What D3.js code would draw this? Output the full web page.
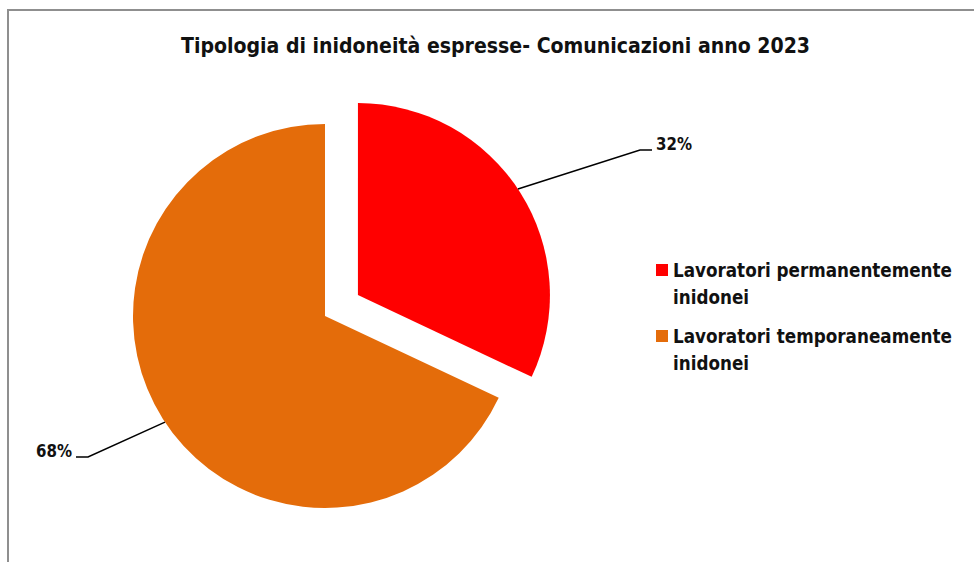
<!DOCTYPE html>
<html>
<head>
<meta charset="utf-8">
<script src="https://cdn.jsdelivr.net/npm/d3@7"></script>
<style>
  html, body { margin: 0; padding: 0; background: #fff; }
  svg { display: block; }
  text { font-family: "DejaVu Sans Condensed", "DejaVu Sans", sans-serif; font-weight: bold; fill: #111; }
</style>
</head>
<body>
<svg id="chart" width="974" height="562"></svg>
<script>
// Chart data
const categories = ["Lavoratori permanentemente inidonei", "Lavoratori temporaneamente inidonei"];
const legendLines = [["Lavoratori permanentemente", "inidonei"], ["Lavoratori temporaneamente", "inidonei"]];
const values = [32, 68];
const valueLabels = ["32%", "68%"];
const colors = ["#FF0000", "#E46C0A"];
const titleText = "Tipologia di inidoneità espresse- Comunicazioni anno 2023";

const svg = d3.select("#chart");
const W = 974, H = 562;

// chart frame
svg.append("path")
  .attr("d", `M8,${H + 2}V10H${W + 2}`)
  .attr("fill", "none")
  .attr("stroke", "#8f8f8f")
  .attr("stroke-width", 2);

// title
svg.append("text")
  .attr("x", 495.5).attr("y", 53)
  .attr("text-anchor", "middle")
  .attr("font-size", 21)
  .attr("textLength", 629).attr("lengthAdjust", "spacingAndGlyphs")
  .text(titleText);

// pie
const cx = 325, cy = 316, r = 192;
const explode = [39, 0];
const pie = d3.pie().sort(null).startAngle(0).endAngle(2 * Math.PI);
const arcs = pie(values);
const arc = d3.arc().innerRadius(0).outerRadius(r);

const g = svg.append("g").attr("transform", `translate(${cx},${cy})`);

function offset(d, i) {
  const a = (d.startAngle + d.endAngle) / 2;
  return [Math.sin(a) * explode[i], -Math.cos(a) * explode[i]];
}

g.selectAll("path.slice")
  .data(arcs)
  .join("path")
  .attr("class", "slice")
  .attr("d", arc)
  .attr("fill", (d, i) => colors[i])
  .attr("transform", (d, i) => {
    const [dx, dy] = offset(d, i);
    return `translate(${dx},${dy})`;
  });

// leader lines and data labels
const labelElbows = [[315, -166], [-237, 141]];
const labelDir = [1, -1];
arcs.forEach((d, i) => {
  const [dx, dy] = offset(d, i);
  const a = (d.startAngle + d.endAngle) / 2 - 0.02;
  const sx = dx + Math.sin(a) * r, sy = dy - Math.cos(a) * r;
  const [ex, ey] = labelElbows[i];
  const hx = ex + labelDir[i] * 12;
  g.append("path")
    .attr("d", `M${sx},${sy}L${ex},${ey}L${hx},${ey}`)
    .attr("fill", "none")
    .attr("stroke", "#000")
    .attr("stroke-width", 1.5);
  g.append("text")
    .attr("x", hx + labelDir[i] * 4)
    .attr("y", ey - 0.5)
    .attr("text-anchor", labelDir[i] > 0 ? "start" : "end")
    .attr("font-size", 18)
    .attr("textLength", 36).attr("lengthAdjust", "spacingAndGlyphs")
    .text(valueLabels[i]);
});

// legend
const legend = svg.append("g").attr("transform", "translate(656,264)");
categories.forEach((c, i) => {
  const lg = legend.append("g").attr("transform", `translate(0,${i * 66})`);
  lg.append("rect").attr("width", 12).attr("height", 12).attr("fill", colors[i]);
  legendLines[i].forEach((line, j) => {
    const t = lg.append("text")
      .attr("x", 17).attr("y", 13 + j * 27)
      .attr("font-size", 19)
      .text(line);
    t.attr("textLength", j === 0 ? 279 : 76).attr("lengthAdjust", "spacingAndGlyphs");
  });
});
</script>
</body>
</html>
